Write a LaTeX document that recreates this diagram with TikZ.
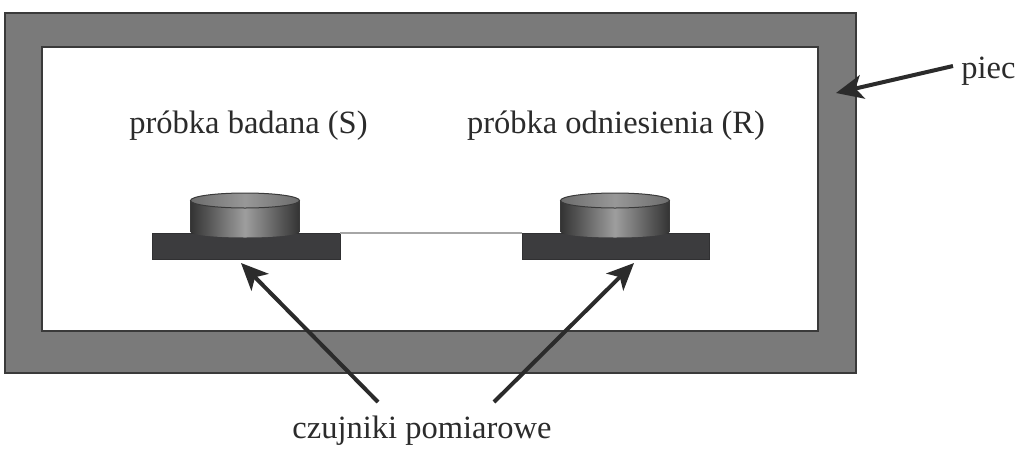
\documentclass[tikz,border=0pt]{standalone}
\usepackage{fontspec}
\setmainfont{Liberation Serif}
\usetikzlibrary{arrows.meta}
\definecolor{wallgray}{HTML}{7A7A7A}
\definecolor{edgegray}{HTML}{3A3A3A}
\definecolor{platedark}{HTML}{3C3C3E}
\definecolor{cyldark}{HTML}{333333}
\definecolor{cylmid}{HTML}{9E9E9E}
\definecolor{toptone}{HTML}{8C8C8C}
\definecolor{inktone}{HTML}{2B2B2B}
\tikzset{
  box/.style={draw=edgegray,line width=1.6pt,anchor=north west,inner sep=0pt,outer sep=0pt},
  plate/.style={draw=platedark!80!black,fill=platedark,line width=0.8pt,anchor=north west,inner sep=0pt,outer sep=0pt,minimum height=26pt},
  lbl/.style={font=\fontsize{32.5}{36}\selectfont,text=inktone,inner sep=0pt,anchor=base},
  pointer/.style={draw=inktone,line width=4pt,-{Stealth[length=27pt,width=24pt,inset=7pt]},shorten <=0pt},
  wire/.style={draw=gray!70,line width=2pt}
}
\newcommand{\cyl}[1]{%
  \begin{scope}[shift={(#1,0)}]
    \path[left color=cyldark,right color=cyldark,middle color=cylmid]
      (0,200.5) -- (0,232) arc[start angle=180,end angle=0,x radius=54.5,y radius=5.5] -- (109,200.5) arc[start angle=360,end angle=180,x radius=54.5,y radius=7.5] -- cycle;
    \path[left color=gray!85!black,right color=gray!85!black,middle color=toptone!90]
      (54.5,200.5) ellipse[x radius=54.5,y radius=7.5];
    \draw[edgegray,line width=1pt] (54.5,200.5) ellipse[x radius=54.5,y radius=7.5];
    \draw[edgegray,line width=.8pt] (0,200.5) -- (0,232) (109,200.5) -- (109,232);
  \end{scope}}
\begin{document}
\begin{tikzpicture}[x=1pt,y=-1pt]
\useasboundingbox (0,0) rectangle (1024,456);
\node[box,fill=wallgray,minimum width=851pt,minimum height=360pt] (outer) at (5,13) {};
\node[box,fill=white,minimum width=776pt,minimum height=284pt] (inner) at (42,47) {};
\node[plate,minimum width=188pt] (plateS) at (152,233) {};
\node[plate,minimum width=187pt] (plateR) at (522,233) {};
\draw[wire] (plateS.north east) -- (plateR.north west);
\cyl{190.5}
\cyl{560.5}
\node[lbl] (tS) at (248.5,133) {próbka badana (S)};
\node[lbl] (tR) at (616,133) {próbka odniesienia (R)};
\node[lbl] (tP) at (988.5,78) {piec};
\node[lbl] (tC) at (422,438) {czujniki pomiarowe};
\coordinate (aP) at (953,66);
\coordinate (hP) at (836,93);
\coordinate (aL) at (378,402);
\coordinate (hL) at (241,263);
\coordinate (aR) at (494,402);
\coordinate (hR) at (634,263);
\draw[pointer] (aP) -- (hP);
\draw[pointer] (aL) -- (hL);
\draw[pointer] (aR) -- (hR);
\end{tikzpicture}
\end{document}
